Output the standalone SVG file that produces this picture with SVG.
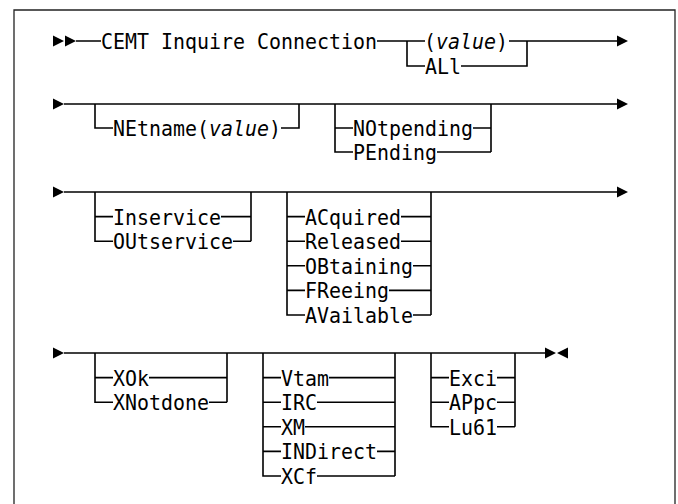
<svg xmlns="http://www.w3.org/2000/svg" width="678" height="504" viewBox="0 0 678 504">
<style>
.bg{fill:#fff}
.frame{fill:none;stroke:#222;stroke-width:1.3}
.ln{fill:none;stroke:#000;stroke-width:1.6}
.ar{fill:#000}
.t{font-family:"DejaVu Sans Mono","Liberation Mono",monospace;font-size:21.5px;fill:#000}
.i{font-style:italic}
</style>
<rect class="bg" x="0" y="0" width="678" height="504"/>
<path class="frame" d="M14,506 V10 H675 V506"/>
<g id="connectors">
<path class="ar" d="M53,35.5 L64,41 L53,46.5 Z M65,35.5 L76,41 L65,46.5 Z"/>
<path class="ln" d="M76,41 H101 M377,41 H425 M509,41 H617"/>
<path class="ln" d="M407,41 V66 H425 M461,66 H527 V41"/>
<path class="ar" d="M617,35.5 L628,41 L617,46.5 Z"/>
<path class="ar" d="M53,98.5 L64,104 L53,109.5 Z"/>
<path class="ln" d="M64,104 H617"/>
<path class="ln" d="M95,104 V128 H113 M281,128 H299 V104"/>
<path class="ln" d="M335,104 V152 H353 M335,128 H353 M473,128 H491 M437,152 H491 M491,104 V152"/>
<path class="ar" d="M617,98.5 L628,104 L617,109.5 Z"/>
<path class="ar" d="M53,186.5 L64,192 L53,197.5 Z"/>
<path class="ln" d="M64,192 H617"/>
<path class="ln" d="M95,192 V241.2 H113 M95,216.6 H113 M221,216.6 H251 M233,241.2 H251 M251,192 V241.2"/>
<path class="ln" d="M287,192 V315 H305 M287,216.6 H305 M287,241.2 H305 M287,265.8 H305 M287,290.4 H305 M401,216.6 H431 M401,241.2 H431 M413,265.8 H431 M389,290.4 H431 M413,315 H431 M431,192 V315"/>
<path class="ar" d="M617,186.5 L628,192 L617,197.5 Z"/>
<path class="ar" d="M53,347.5 L64,353 L53,358.5 Z"/>
<path class="ln" d="M64,353 H545"/>
<path class="ln" d="M95,353 V402.2 H113 M95,377.6 H113 M149,377.6 H227 M209,402.2 H227 M227,353 V402.2"/>
<path class="ln" d="M263,353 V476 H281 M263,377.6 H281 M263,402.2 H281 M263,426.8 H281 M263,451.4 H281 M329,377.6 H395 M317,402.2 H395 M305,426.8 H395 M377,451.4 H395 M317,476 H395 M395,353 V476"/>
<path class="ln" d="M431,353 V426.8 H449 M431,377.6 H449 M431,402.2 H449 M497,377.6 H515 M497,402.2 H515 M497,426.8 H515 M515,353 V426.8"/>
<path class="ar" d="M545,347.5 L556,353 L545,358.5 Z M568,347.5 L557,353 L568,358.5 Z"/>
</g>
<g id="n-cemt"><text class="t" x="101" y="49" textLength="276" lengthAdjust="spacingAndGlyphs">CEMT Inquire Connection</text></g>
<g id="n-value"><text class="t" x="424" y="49" textLength="84" lengthAdjust="spacingAndGlyphs">(<tspan class="i">value</tspan>)</text></g>
<g id="n-all"><text class="t" x="425" y="74" textLength="36" lengthAdjust="spacingAndGlyphs">ALl</text></g>
<g id="n-netname"><text class="t" x="113" y="136" textLength="168" lengthAdjust="spacingAndGlyphs">NEtname(<tspan class="i">value</tspan>)</text></g>
<g id="n-notpending"><text class="t" x="353" y="136" textLength="120" lengthAdjust="spacingAndGlyphs">NOtpending</text></g>
<g id="n-pending"><text class="t" x="353" y="160" textLength="84" lengthAdjust="spacingAndGlyphs">PEnding</text></g>
<g id="n-inservice"><text class="t" x="113" y="224.6" textLength="108" lengthAdjust="spacingAndGlyphs">Inservice</text></g>
<g id="n-outservice"><text class="t" x="113" y="249.2" textLength="120" lengthAdjust="spacingAndGlyphs">OUtservice</text></g>
<g id="n-acquired"><text class="t" x="305" y="224.6" textLength="96" lengthAdjust="spacingAndGlyphs">ACquired</text></g>
<g id="n-released"><text class="t" x="305" y="249.2" textLength="96" lengthAdjust="spacingAndGlyphs">Released</text></g>
<g id="n-obtaining"><text class="t" x="305" y="273.8" textLength="108" lengthAdjust="spacingAndGlyphs">OBtaining</text></g>
<g id="n-freeing"><text class="t" x="305" y="298.4" textLength="84" lengthAdjust="spacingAndGlyphs">FReeing</text></g>
<g id="n-available"><text class="t" x="305" y="323" textLength="108" lengthAdjust="spacingAndGlyphs">AVailable</text></g>
<g id="n-xok"><text class="t" x="113" y="385.6" textLength="36" lengthAdjust="spacingAndGlyphs">XOk</text></g>
<g id="n-xnotdone"><text class="t" x="113" y="410.2" textLength="96" lengthAdjust="spacingAndGlyphs">XNotdone</text></g>
<g id="n-vtam"><text class="t" x="281" y="385.6" textLength="48" lengthAdjust="spacingAndGlyphs">Vtam</text></g>
<g id="n-irc"><text class="t" x="281" y="410.2" textLength="36" lengthAdjust="spacingAndGlyphs">IRC</text></g>
<g id="n-xm"><text class="t" x="281" y="434.8" textLength="24" lengthAdjust="spacingAndGlyphs">XM</text></g>
<g id="n-indirect"><text class="t" x="281" y="459.4" textLength="96" lengthAdjust="spacingAndGlyphs">INDirect</text></g>
<g id="n-xcf"><text class="t" x="281" y="484" textLength="36" lengthAdjust="spacingAndGlyphs">XCf</text></g>
<g id="n-exci"><text class="t" x="449" y="385.6" textLength="48" lengthAdjust="spacingAndGlyphs">Exci</text></g>
<g id="n-appc"><text class="t" x="449" y="410.2" textLength="48" lengthAdjust="spacingAndGlyphs">APpc</text></g>
<g id="n-lu61"><text class="t" x="449" y="434.8" textLength="48" lengthAdjust="spacingAndGlyphs">Lu61</text></g>
</svg>
